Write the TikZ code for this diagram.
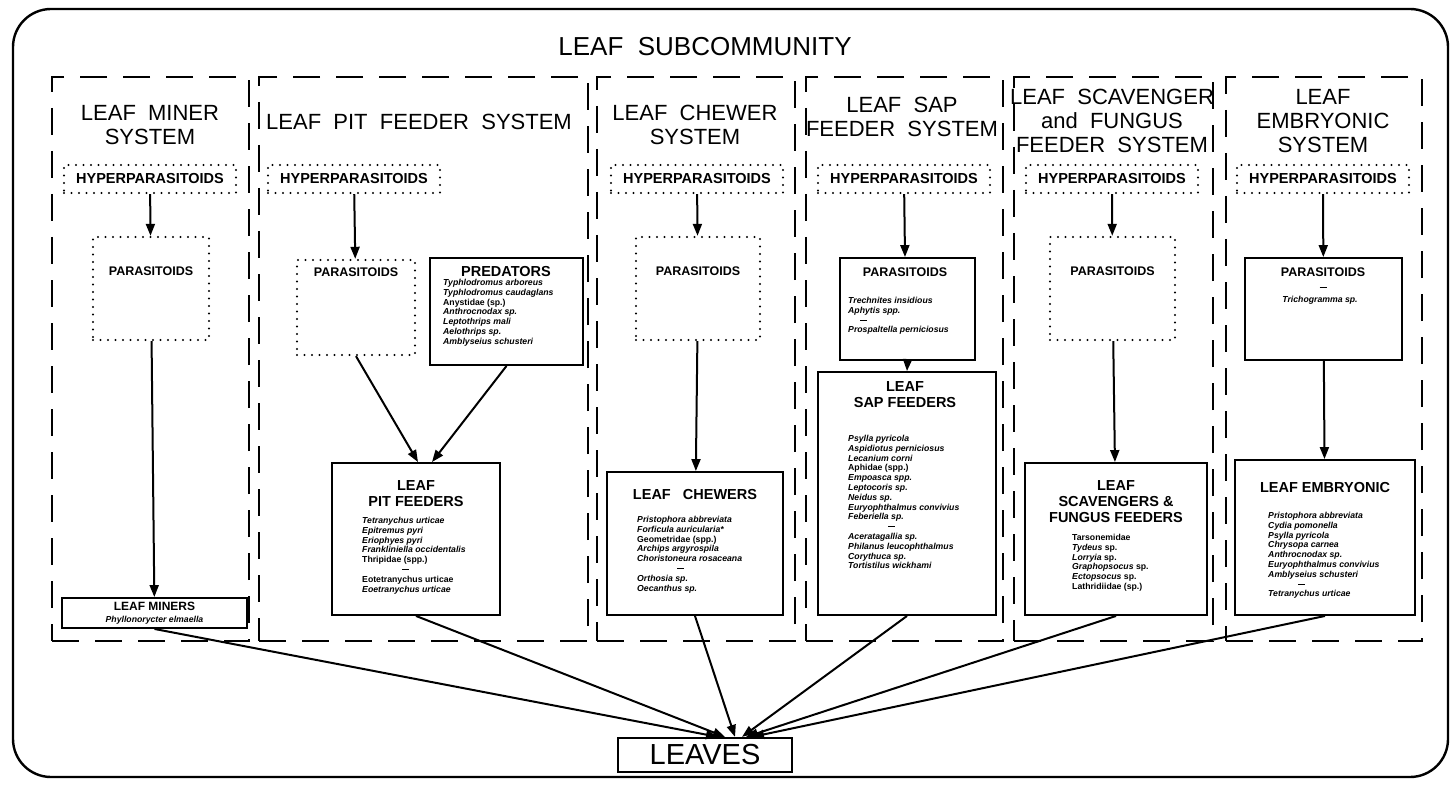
\documentclass[tikz,border=0pt]{standalone}
\usepackage{fontspec}
\setmainfont{Liberation Sans}
\usetikzlibrary{arrows.meta}
\newcommand{\fs}[2]{\fontsize{#1}{#2}\selectfont}
\begin{document}
\begin{tikzpicture}[x=1pt,y=-1pt,
  frame/.style={draw,line width=2.4pt,rounded corners=38pt,inner sep=0pt},
  sysbox/.style={draw,line width=2.2pt,dash pattern=on 27pt off 16pt,inner sep=0pt},
  dotbox/.style={draw,line width=2.4pt,line cap=round,dash pattern=on 0pt off 7.5pt,inner sep=0pt},
  solidbox/.style={draw,line width=1.9pt,inner sep=0pt},
  systitle/.style={font=\fs{22}{24},align=center,inner sep=0pt},
  head/.style={font=\fs{14.5}{16}\bfseries,align=center,inner sep=0pt},
  small/.style={font=\fs{12.5}{14}\bfseries,align=center,inner sep=0pt},
  list/.style={font=\fs{8.7}{9.8}\bfseries\itshape,align=left,anchor=north west,inner sep=0pt},
  arr/.style={line width=2pt,-{Triangle[length=12pt,width=9pt]}},
]
\useasboundingbox (0,0) rectangle (1455,786);

% outer frame and title
\node[frame,minimum width=1435pt,minimum height=768pt] (frame) at (730.5,393) {};
\node[font=\fs{26}{28},inner sep=0pt] (title) at (705,47) {LEAF\ \ SUBCOMMUNITY};

% system compartments
\node[sysbox,minimum width=197pt,minimum height=564pt] (c1) at (150.5,359) {};
\node[sysbox,minimum width=329pt,minimum height=564pt] (c2) at (423.5,359) {};
\node[sysbox,minimum width=198pt,minimum height=564pt] (c3) at (696,359) {};
\node[sysbox,minimum width=197pt,minimum height=564pt] (c4) at (904.5,359) {};
\node[sysbox,minimum width=199pt,minimum height=564pt] (c5) at (1113.5,359) {};
\node[sysbox,minimum width=196pt,minimum height=564pt] (c6) at (1324,359) {};

% compartment titles
\node[systitle] (t1) at (150,125) {LEAF\ \ MINER\\SYSTEM};
\node[systitle] (t2) at (419,122) {LEAF\ \ PIT\ \ FEEDER\ \ SYSTEM};
\node[systitle] (t3) at (695,125) {LEAF\ \ CHEWER\\SYSTEM};
\node[systitle] (t4) at (902,117) {LEAF\ \ SAP\\FEEDER\ \ SYSTEM};
\node[systitle] (t5) at (1112,121) {LEAF\ \ SCAVENGER\\and\ \ FUNGUS\\FEEDER\ \ SYSTEM};
\node[systitle] (t6) at (1323,121) {LEAF\\EMBRYONIC\\SYSTEM};

% hyperparasitoids
\foreach \n/\x in {1/150,2/354,3/697,4/904,5/1112,6/1323}
  \node[dotbox,minimum width=172pt,minimum height=28pt,font=\fs{14.5}{16}\bfseries] (h\n) at (\x,179) {HYPERPARASITOIDS};

% parasitoids (unknown species: dotted)
\node[dotbox,minimum width=116pt,minimum height=103pt] (p1) at (151,288.5) {};
\node[small] (p1t) at (151,271) {PARASITOIDS};
\node[dotbox,minimum width=118pt,minimum height=95pt] (p2) at (356,307.5) {};
\node[small] (p2t) at (356,272) {PARASITOIDS};
\node[dotbox,minimum width=124pt,minimum height=103pt] (p3) at (698,288.5) {};
\node[small] (p3t) at (698,271) {PARASITOIDS};
\node[dotbox,minimum width=125pt,minimum height=103pt] (p5) at (1112.5,288.5) {};
\node[small] (p5t) at (1112.5,271) {PARASITOIDS};

% parasitoids with known species
\node[solidbox,minimum width=135pt,minimum height=102pt] (p4) at (907.5,309) {};
\node[small] (p4t) at (905,272) {PARASITOIDS};
\node[list] (p4l) at (848,297) {Trechnites insidious\\Aphytis spp.\\\hspace*{12pt}\rule[2.5pt]{7pt}{0.9pt}\\Prospaltella perniciosus};

\node[solidbox,minimum width=157pt,minimum height=102pt] (p6) at (1323.5,309) {};
\node[small] (p6t) at (1323,272) {PARASITOIDS};
\node[inner sep=0pt] (p6d) at (1323,287) {\rule{7pt}{0.9pt}};
\node[list,anchor=center] (p6l) at (1320,300) {Trichogramma sp.};

% predators
\node[solidbox,minimum width=153pt,minimum height=107pt] (pred) at (506.5,311.5) {};
\node[head] (predt) at (506,272) {PREDATORS};
\node[list] (predl) at (443,279) {Typhlodromus arboreus\\Typhlodromus caudaglans\\{\upshape Anystidae (sp.)}\\Anthrocnodax sp.\\Leptothrips mali\\Aelothrips sp.\\Amblyseius schusteri};

% herbivore groups
\node[solidbox,minimum width=185pt,minimum height=30pt] (mine) at (154.5,613) {};
\node[small,font=\fs{12}{13}\bfseries] (minet) at (154.5,606) {LEAF MINERS};
\node[list,anchor=center] (minel) at (154.5,620) {Phyllonorycter elmaella};

\node[solidbox,minimum width=168pt,minimum height=152pt] (pit) at (416,539) {};
\node[head] (pitt) at (416,494) {LEAF\\PIT FEEDERS};
\node[list] (pitl) at (362,517) {Tetranychus urticae\\Epitremus pyri\\Eriophyes pyri\\Frankliniella occidentalis\\{\upshape Thripidae (spp.)}\\\hspace*{40pt}\rule[2.5pt]{7pt}{0.9pt}\\{\upshape Eotetranychus urticae}\\Eoetranychus urticae};

\node[solidbox,minimum width=176pt,minimum height=143pt] (chew) at (695,543.5) {};
\node[head] (chewt) at (695,495) {LEAF\ \ \ CHEWERS};
\node[list] (chewl) at (637,516) {Pristophora abbreviata\\Forficula auricularia*\\{\upshape Geometridae (spp.)}\\Archips argyrospila\\Choristoneura rosaceana\\\hspace*{40pt}\rule[2.5pt]{7pt}{0.9pt}\\Orthosia sp.\\Oecanthus sp.};

\node[solidbox,minimum width=178pt,minimum height=243pt] (sap) at (907,493.5) {};
\node[head] (sapt) at (905,395) {LEAF\\SAP FEEDERS};
\node[list] (sapl) at (848,435) {Psylla pyricola\\Aspidiotus perniciosus\\Lecanium corni\\{\upshape Aphidae (spp.)}\\Empoasca spp.\\Leptocoris sp.\\Neidus sp.\\Euryophthalmus convivius\\Feberiella sp.\\\hspace*{40pt}\rule[2.5pt]{7pt}{0.9pt}\\Aceratagallia sp.\\Philanus leucophthalmus\\Corythuca sp.\\Tortistilus wickhami};

\node[solidbox,minimum width=182pt,minimum height=152pt] (scav) at (1116,539) {};
\node[head] (scavt) at (1116,502) {LEAF\\SCAVENGERS \&\\FUNGUS FEEDERS};
\node[list] (scavl) at (1072,534) {{\upshape Tarsonemidae}\\Tydeus {\upshape sp.}\\Lorryia {\upshape sp.}\\Graphopsocus {\upshape sp.}\\Ectopsocus {\upshape sp.}\\{\upshape Lathridiidae (sp.)}};

\node[solidbox,minimum width=180pt,minimum height=155pt] (emb) at (1325,537.5) {};
\node[head] (embt) at (1325,488) {LEAF EMBRYONIC};
\node[list] (embl) at (1268,512) {Pristophora abbreviata\\Cydia pomonella\\Psylla pyricola\\Chrysopa carnea\\Anthrocnodax sp.\\Euryophthalmus convivius\\Amblyseius schusteri\\\hspace*{30pt}\rule[2.5pt]{7pt}{0.9pt}\\Tetranychus urticae};

% the resource
\node[solidbox,line width=2.2pt,minimum width=174pt,minimum height=34pt,font=\fs{29}{30}] (leaves) at (705,755) {LEAVES};

% trophic links
\draw[arr] (h1) -- (p1);
\draw[arr] (p1) -- (mine);
\draw[arr] (h2) -- (p2);
\draw[arr] (p2.south) -- ([xshift=2pt]pit.north);
\draw[arr] (pred.south) -- ([xshift=16pt]pit.north);
\draw[arr] (h3) -- (p3);
\draw[arr] (p3) -- (chew);
\draw[arr] (h4) -- (p4t.north |- p4.north);
\draw[arr] (p4.south) -- (sap.north);
\draw[arr] (h5) -- (p5);
\draw[arr] (p5) -- (scav);
\draw[arr] (h6) -- (p6);
\draw[arr] (p6) -- (emb);

\draw[arr] (mine.south) -- ([xshift=13pt]leaves.north);
\draw[arr] (pit.south) -- ([xshift=20pt]leaves.north);
\draw[arr] (chew.south) -- ([xshift=30pt]leaves.north);
\draw[arr] (sap.south) -- ([xshift=37pt]leaves.north);
\draw[arr] (scav.south) -- ([xshift=41pt]leaves.north);
\draw[arr] (emb.south) -- ([xshift=47pt]leaves.north);
\end{tikzpicture}
\end{document}
